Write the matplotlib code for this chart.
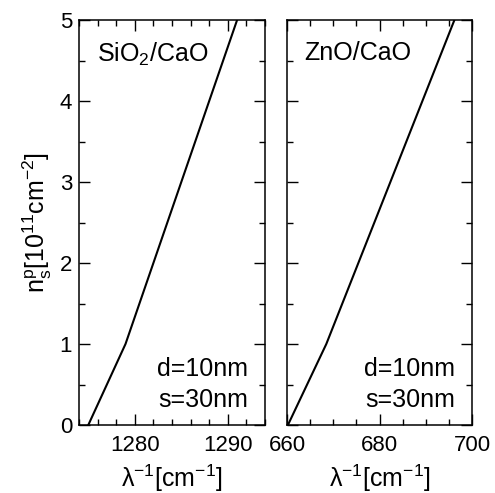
import numpy as np
import matplotlib.pyplot as plt
from matplotlib.ticker import MultipleLocator

plt.rcParams['font.family'] = ['Liberation Sans', 'DejaVu Sans']
plt.rcParams['mathtext.fontset'] = 'custom'
plt.rcParams['mathtext.rm'] = 'Liberation Sans'
plt.rcParams['mathtext.it'] = 'Liberation Sans:italic'

# data
x_sio2 = [1275.0, 1279.0, 1291.0]
y_sio2 = [0, 1, 5]
x_zno = [660.2, 668.5, 696.2]
y_zno = [0, 1, 5]
labels = [r'SiO$\mathregular{_2}$/CaO', 'ZnO/CaO']

fig = plt.figure(figsize=(4.95, 4.93), dpi=100)
ax1 = fig.add_axes([79/495, 1-425/493, 186/495, 405/493])
ax2 = fig.add_axes([287/495, 1-425/493, 185/495, 405/493])

for ax, xs, ys, lab, xlim, maj, mnr in [
        (ax1, x_sio2, y_sio2, labels[0], (1274, 1294), 10, 2),
        (ax2, x_zno, y_zno, labels[1], (660, 700), 20, 5)]:
    ax.plot(xs, ys, 'k-', lw=1.5)
    ax.set_xlim(*xlim)
    ax.set_ylim(0, 5)
    ax.xaxis.set_major_locator(MultipleLocator(maj))
    ax.xaxis.set_minor_locator(MultipleLocator(mnr))
    ax.yaxis.set_major_locator(MultipleLocator(1))
    ax.yaxis.set_minor_locator(MultipleLocator(0.5))
    ax.tick_params(which='both', direction='in', top=True, right=True, width=1.0)
    ax.tick_params(which='major', length=8, labelsize=16)
    ax.tick_params(which='minor', length=4.5)
    ax.tick_params(axis='x', pad=7)
    ax.tick_params(axis='y', pad=5)
    for s in ax.spines.values():
        s.set_linewidth(1.1)
    ax.set_xlabel(r'$\mathregular{\lambda^{-1}[cm^{-1}]}$', fontsize=18, labelpad=5)
    ax.text(0.095, 0.948, lab, transform=ax.transAxes, fontsize=18, ha='left', va='top')
    ax.text(0.91, 0.12, 'd=10nm', transform=ax.transAxes, fontsize=18, ha='right', va='baseline')
    ax.text(0.91, 0.044, 's=30nm', transform=ax.transAxes, fontsize=18, ha='right', va='baseline')

ax2.set_yticklabels([])
ax1.set_ylabel(r'$\mathregular{n_s^p[10^{11}cm^{-2}]}$', fontsize=18, labelpad=4)

fig.savefig('out.png', dpi=100)
